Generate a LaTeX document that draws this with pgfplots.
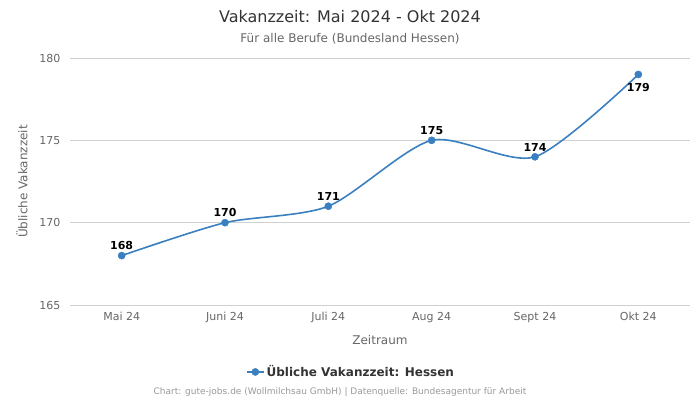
\documentclass[border=0pt]{standalone}
\usepackage{pgfplots}
\pgfplotsset{compat=1.18}
\usepackage{fontspec}
\setmainfont{DejaVu Sans}

\definecolor{linie}{HTML}{3A80C0}
\definecolor{titel}{HTML}{333333}
\definecolor{grau}{HTML}{666666}
\definecolor{fuss}{HTML}{999999}
\definecolor{gitter}{HTML}{D0D0D0}

\begin{document}
\begin{tikzpicture}
\path[use as bounding box] (0pt,0pt) rectangle (700pt,-400pt);

% Titel und Untertitel
\node[font=\fontsize{16}{19}\selectfont, text=titel] at (350pt,-17pt) {Vakanzzeit: Mai 2024 - Okt 2024};
\node[font=\fontsize{12}{14}\selectfont, text=grau] at (350pt,-39pt) {Für alle Berufe (Bundesland Hessen)};

\begin{axis}[
    at={(70pt,-305pt)}, anchor=south west,
    scale only axis,
    width=620pt, height=247pt,
    xmin=-0.5, xmax=5.5,
    ymin=165, ymax=180,
    xtick={0,1,2,3,4,5},
    xticklabels={Mai 24, Juni 24, Juli 24, Aug 24, Sept 24, Okt 24},
    ytick={165,170,175,180},
    /pgf/number format/assume math mode=true,
    ticklabel style={font=\fontsize{11}{13}\selectfont, text=grau},
    yticklabel style={xshift=-6pt},
    xticklabel style={yshift=-4pt},
    axis line style={draw=none},
    major tick length=0pt,
    ymajorgrids,
    grid style={gitter, line width=0.8pt},
    every axis y label/.style={at={(axis description cs:-0.0775,0.5)}, rotate=90, anchor=center,
        font=\fontsize{12}{14}\selectfont, text=grau},
    every axis x label/.style={at={(axis description cs:0.5,0)}, yshift=-35pt, anchor=center,
        font=\fontsize{12}{14}\selectfont, text=grau},
    ylabel={Übliche Vakanzzeit},
    xlabel={Zeitraum},
    legend style={at={(0.5,-0.271)}, anchor=center, xshift=-29pt, draw=none, fill=none,
        font=\fontsize{12}{14}\selectfont\bfseries, text=titel},
    legend cell align=left,
    clip=false,
]
\addplot[linie, line width=1.6pt, smooth, tension=0.45, mark=*, mark size=3.6pt,
    mark options={fill=linie, draw=linie, line width=0.4pt}]
    coordinates {(0,168) (1,170) (2,171) (3,175) (4,174) (5,179)};
\addlegendentry{Übliche Vakanzzeit: Hessen}

% Beschriftungen oberhalb
\addplot[draw=none, mark=none, forget plot,
    nodes near coords,
    nodes near coords style={font=\fontsize{11}{13}\selectfont\bfseries, text=black, anchor=south, yshift=2pt}]
    coordinates {(0,168) (1,170) (2,171) (3,175) (4,174)};
% Beschriftung unterhalb
\addplot[draw=none, mark=none, forget plot,
    nodes near coords,
    nodes near coords style={font=\fontsize{11}{13}\selectfont\bfseries, text=black, anchor=north, yshift=-5pt}]
    coordinates {(5,179)};
\end{axis}

% Fusszeile
\node[font=\fontsize{9}{11}\selectfont, text=fuss] at (340pt,-392pt) {Chart: gute-jobs.de (Wollmilchsau GmbH) | Datenquelle: Bundesagentur für Arbeit};
\end{tikzpicture}
\end{document}
